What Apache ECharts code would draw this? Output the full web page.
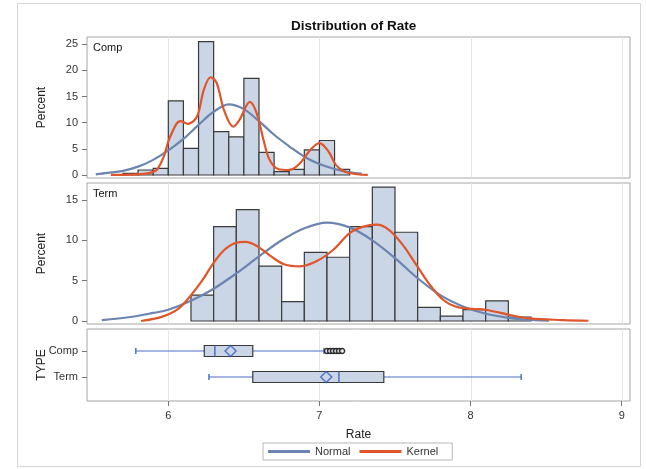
<!DOCTYPE html>
<html>
<head>
<meta charset="utf-8">
<script src="https://cdn.jsdelivr.net/npm/echarts@6/dist/echarts.min.js"></script>
<style>html,body{margin:0;padding:0;background:#fff}#c{width:646px;height:469px}</style>
</head>
<body>
<div id="c"></div>
<script>
// ---------- data ----------
const rateTicks = [6, 7, 8, 9];
const typeCats = ['Comp', 'Term'];
const percentTicksComp = [0, 5, 10, 15, 20, 25];
const percentTicksTerm = [0, 5, 10, 15];

const compBinLeft = [5.7, 5.8, 5.9, 6.0, 6.1, 6.2, 6.3, 6.4, 6.5, 6.6, 6.7, 6.8, 6.9, 7.0, 7.1];
const compPct = [0.3, 0.96, 1.28, 14.2, 5.1, 25.5, 8.3, 7.3, 18.5, 4.35, 0.64, 1.09, 4.8, 6.6, 1.09];
const compBinWidth = 0.1;

const termBinLeft = [6.15, 6.30, 6.45, 6.60, 6.75, 6.90, 7.05, 7.20, 7.35, 7.50, 7.65, 7.80, 7.95, 8.10, 8.25];
const termPct = [3.2, 11.7, 13.8, 6.8, 2.4, 8.5, 7.9, 11.7, 16.6, 11.0, 1.7, 0.6, 1.4, 2.5, 0.5];
const termBinWidth = 0.15;

const compNormalX = [5.52, 5.6, 5.7, 5.8, 5.9, 6.0, 6.1, 6.2, 6.3, 6.4, 6.5, 6.6, 6.7, 6.8, 6.9, 7.0, 7.1, 7.2, 7.28];
const compNormalY = [0.13, 0.4, 0.8, 1.6, 2.9, 4.7, 6.9, 9.6, 12.1, 13.5, 12.6, 10.3, 7.7, 5.5, 3.5, 2.1, 1.15, 0.5, 0.25];

const compKernelX = [5.62, 5.75, 5.85, 5.9, 5.93, 5.97, 6.0, 6.05, 6.08, 6.13, 6.19, 6.235, 6.28, 6.32, 6.37, 6.43, 6.47, 6.54, 6.585, 6.63, 6.67, 6.73, 6.8, 6.87, 6.94, 7.0, 7.06, 7.11, 7.17, 7.25, 7.32];
const compKernelY = [0.02, 0.08, 0.25, 0.6, 1.2, 3.5, 6.4, 9.6, 10.3, 9.8, 11.2, 16.3, 18.7, 17.6, 12.3, 9.25, 10.5, 14.0, 11.8, 6.7, 2.9, 1.1, 0.96, 2.2, 4.8, 6.1, 4.5, 1.9, 0.64, 0.15, 0.02];

const termNormalX = [5.56, 5.75, 5.9, 6.0, 6.15, 6.3, 6.45, 6.6, 6.75, 6.9, 7.05, 7.2, 7.35, 7.5, 7.65, 7.8, 7.95, 8.1, 8.25, 8.4, 8.52];
const termNormalY = [0.12, 0.5, 1.0, 1.4, 2.5, 4.0, 5.9, 8.0, 10.0, 11.5, 12.2, 11.6, 10.0, 7.8, 5.3, 3.2, 1.8, 0.9, 0.4, 0.15, 0.05];

const termKernelX = [5.82, 5.96, 6.07, 6.15, 6.22, 6.3, 6.37, 6.45, 6.51, 6.59, 6.68, 6.77, 6.87, 6.98, 7.09, 7.2, 7.29, 7.38, 7.46, 7.55, 7.64, 7.73, 7.82, 7.9, 8.01, 8.1, 8.26, 8.39, 8.61, 8.78];
const termKernelY = [0.0, 0.54, 1.58, 3.2, 4.9, 7.2, 8.8, 9.7, 9.8, 9.25, 8.0, 7.0, 6.77, 7.4, 8.8, 10.9, 11.7, 11.95, 11.3, 9.46, 7.0, 4.5, 2.6, 1.8, 1.5, 1.4, 0.75, 0.33, 0.12, 0.03];

// box stats: [min whisker, Q1, median, Q3, max whisker]
const compBox = [5.785, 6.238, 6.308, 6.559, 7.03];
const termBox = [6.269, 6.559, 7.129, 7.426, 8.335];
const boxMeans = [6.412, 7.045];
const compOutliers = [7.05, 7.07, 7.09, 7.11, 7.13, 7.15];

// ---------- styling ----------
const FONT = 'Liberation Sans, Arial, sans-serif';
const BAR_FILL = '#cad5e5';
const BAR_STROKE = '#3a3a3a';
const NORMAL_C = '#6b84b0';
const KERNEL_C = '#e0562a';
const WHISK_C = '#4f6fc2';
const PANEL_C = '#a6a6a6';
const GRID_C = '#e6e6e6';
const X_MIN = 5.462, X_MAX = 9.055;

const zip = (a, b) => a.map((v, i) => [v, b[i]]);

function xAxisDef(idx, showLabels) {
  return {
    type: 'value', gridIndex: idx, min: X_MIN, max: X_MAX,
    axisLine: { show: false },
    splitLine: { show: false },
    axisTick: { show: showLabels, customValues: rateTicks, length: 5, lineStyle: { color: '#777' } },
    axisLabel: { show: showLabels, customValues: rateTicks, margin: 9, fontSize: 11, color: '#333', fontFamily: FONT },
    name: showLabels ? 'Rate' : '', nameLocation: 'middle', nameGap: 28, nameMoveOverlap: false,
    nameTextStyle: { fontSize: 12, color: '#222', fontFamily: FONT }
  };
}
function yAxisDef(idx, min, max, ticks, name, extra) {
  return Object.assign({
    type: 'value', gridIndex: idx, min: min, max: max,
    axisLine: { show: false }, splitLine: { show: false },
    axisTick: { show: true, customValues: ticks, length: 5, lineStyle: { color: '#777' } },
    axisLabel: { customValues: ticks, margin: 9, fontSize: 11, color: '#333', fontFamily: FONT },
    name: name, nameLocation: 'middle', nameGap: 39, nameRotate: 90, nameMoveOverlap: false,
    nameTextStyle: { fontSize: 12, color: '#222', fontFamily: FONT }
  }, extra || {});
}

function gridLineSeries(idx) {
  return {
    type: 'custom', xAxisIndex: idx, yAxisIndex: idx, z: 0, silent: true,
    data: rateTicks.map(v => [v]),
    renderItem: function (params, api) {
      const cs = params.coordSys;
      const x = Math.round(api.coord([api.value(0), 0])[0]) + 0.5;
      return { type: 'line', shape: { x1: x, y1: cs.y, x2: x, y2: cs.y + cs.height },
        style: { stroke: GRID_C, lineWidth: 1 } };
    }
  };
}

function histSeries(idx, lefts, pcts, width) {
  return {
    type: 'custom', xAxisIndex: idx, yAxisIndex: idx, z: 2, silent: true,
    data: lefts.map((l, i) => [l, pcts[i], l + width]),
    renderItem: function (params, api) {
      const p1 = api.coord([api.value(0), api.value(1)]);
      const p2 = api.coord([api.value(2), 0]);
      return { type: 'rect', shape: { x: p1[0], y: p1[1], width: p2[0] - p1[0], height: p2[1] - p1[1] },
        style: { fill: BAR_FILL, stroke: BAR_STROKE, lineWidth: 1.2 } };
    }
  };
}

function curveSeries(idx, name, xs, ys, color) {
  return {
    type: 'line', name: name, xAxisIndex: idx, yAxisIndex: idx, z: 5,
    data: zip(xs, ys), smooth: 0.35, symbol: 'none', silent: true,
    lineStyle: { color: color, width: 2.2 }, itemStyle: { color: color }
  };
}

const boxData = [[1].concat(compBox), [2].concat(termBox)];

const option = {
  animation: false,
  backgroundColor: '#fff',
  title: {
    text: 'Distribution of Rate', left: 286, top: 14,
    textStyle: { fontSize: 13.5, fontWeight: 'bold', color: '#111', fontFamily: FONT }
  },
  legend: {
    left: 263, top: 443, data: ['Normal', 'Kernel'],
    icon: 'rect', itemWidth: 42, itemHeight: 3, itemGap: 9,
    borderColor: '#b8b8b8', borderWidth: 1, padding: [3, 14, 3, 5],
    textStyle: { fontSize: 11, color: '#333', fontFamily: FONT }
  },
  graphic: [
    { type: 'rect', shape: { x: 17.5, y: 3.5, width: 623, height: 463 },
      style: { fill: 'none', stroke: '#d6d6d6', lineWidth: 1 }, silent: true, z: -10 },
    { type: 'text', left: 93, top: 42, silent: true,
      style: { text: typeCats[0], fontSize: 11, fill: '#111', fontFamily: FONT } },
    { type: 'text', left: 93, top: 188, silent: true,
      style: { text: typeCats[1], fontSize: 11, fill: '#111', fontFamily: FONT } }
  ],
  grid: [
    { left: 87, top: 37, width: 543, height: 141, show: true, borderColor: PANEL_C, borderWidth: 1, backgroundColor: 'transparent' },
    { left: 87, top: 183, width: 543, height: 141, show: true, borderColor: PANEL_C, borderWidth: 1, backgroundColor: 'transparent' },
    { left: 87, top: 329, width: 543, height: 72, show: true, borderColor: PANEL_C, borderWidth: 1, backgroundColor: 'transparent' }
  ],
  xAxis: [xAxisDef(0, false), xAxisDef(1, false), xAxisDef(2, true)],
  yAxis: [
    yAxisDef(0, -0.57, 26.4, percentTicksComp, 'Percent'),
    yAxisDef(1, -0.37, 17.1, percentTicksTerm, 'Percent'),
    yAxisDef(2, 0.154, 2.923, [1, 2], 'TYPE', {
      inverse: true,
      axisLabel: { customValues: [1, 2], margin: 9, fontSize: 11, color: '#333', fontFamily: FONT,
        formatter: v => typeCats[Math.round(v) - 1] || '' }
    })
  ],
  series: [
    gridLineSeries(0), gridLineSeries(1), gridLineSeries(2),
    histSeries(0, compBinLeft, compPct, compBinWidth),
    histSeries(1, termBinLeft, termPct, termBinWidth),
    curveSeries(0, 'Normal', compNormalX, compNormalY, NORMAL_C),
    curveSeries(0, 'Kernel', compKernelX, compKernelY, KERNEL_C),
    curveSeries(1, 'Normal', termNormalX, termNormalY, NORMAL_C),
    curveSeries(1, 'Kernel', termKernelX, termKernelY, KERNEL_C),
    {
      type: 'custom', xAxisIndex: 2, yAxisIndex: 2, z: 3, silent: true,
      data: boxData,
      renderItem: function (params, api) {
        const pos = api.value(0);
        const lo = api.coord([api.value(1), pos]);
        const q1 = api.coord([api.value(2), pos]);
        const md = api.coord([api.value(3), pos]);
        const q3 = api.coord([api.value(4), pos]);
        const hi = api.coord([api.value(5), pos]);
        const y = lo[1], h = 5.5, cap = 3;
        return { type: 'group', children: [
          { type: 'line', shape: { x1: lo[0], y1: y, x2: q1[0], y2: y }, style: { stroke: WHISK_C, lineWidth: 1.2 } },
          { type: 'line', shape: { x1: q3[0], y1: y, x2: hi[0], y2: y }, style: { stroke: WHISK_C, lineWidth: 1.2 } },
          { type: 'line', shape: { x1: lo[0], y1: y - cap, x2: lo[0], y2: y + cap }, style: { stroke: WHISK_C, lineWidth: 1.5 } },
          { type: 'line', shape: { x1: hi[0], y1: y - cap, x2: hi[0], y2: y + cap }, style: { stroke: WHISK_C, lineWidth: 1.5 } },
          { type: 'rect', shape: { x: q1[0], y: y - h, width: q3[0] - q1[0], height: 2 * h },
            style: { fill: BAR_FILL, stroke: BAR_STROKE, lineWidth: 1.2 } },
          { type: 'line', shape: { x1: md[0], y1: y - h, x2: md[0], y2: y + h }, style: { stroke: WHISK_C, lineWidth: 1.5 } }
        ] };
      }
    },
    {
      type: 'scatter', xAxisIndex: 2, yAxisIndex: 2, z: 6, silent: true,
      data: boxMeans.map((m, i) => [m, i + 1]),
      symbol: 'diamond', symbolSize: [11, 11],
      itemStyle: { color: 'rgba(0,0,0,0)', borderColor: '#3b5cc0', borderWidth: 1.5 }
    },
    {
      type: 'scatter', xAxisIndex: 2, yAxisIndex: 2, z: 6, silent: true,
      data: compOutliers.map(v => [v, 1]),
      symbol: 'circle', symbolSize: 5,
      itemStyle: { color: '#fff', borderColor: '#000', borderWidth: 1.5 }
    }
  ]
};

const chart = echarts.init(document.getElementById('c'), null, { renderer: 'canvas' });
chart.setOption(option);
</script>
</body>
</html>
